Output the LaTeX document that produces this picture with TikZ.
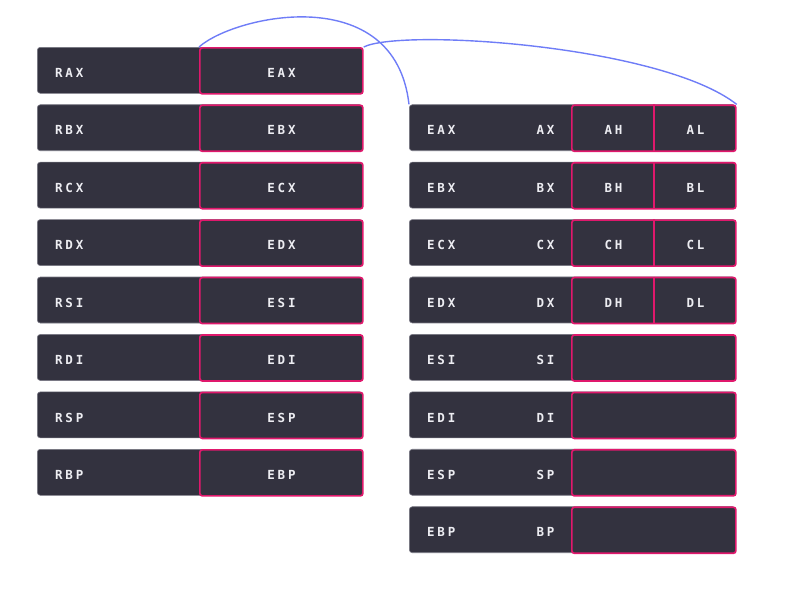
\documentclass[tikz,border=0pt]{standalone}
\usepackage{fontspec}
\newfontfamily\regfont{DejaVu Sans Mono}[LetterSpace=22]
\definecolor{boxfill}{HTML}{33323F}
\definecolor{boxedge}{HTML}{7A7985}
\definecolor{pinkc}{HTML}{E0186C}
\definecolor{linkc}{HTML}{6F7DF7}
\definecolor{labeltext}{HTML}{EDEDF2}
\tikzset{
  regbox/.style={draw=boxedge, fill=boxfill, rounded corners=3pt, line width=0.6pt,
    minimum height=46pt, inner sep=0pt, anchor=north west},
  pinkbox/.style={draw=pinkc, fill=boxfill, rounded corners=2.5pt, line width=1.7pt,
    minimum height=46pt, inner sep=0pt, anchor=north west},
  cellbox/.style={minimum height=46pt, inner sep=0pt, anchor=north west},
  lbl/.style={font=\regfont\bfseries\fontsize{12.5}{14}\selectfont, text=labeltext, inner sep=0pt},
  divider/.style={draw=pinkc, line width=1.7pt},
  link/.style={draw=linkc, line width=1.4pt}
}
\begin{document}
\begin{tikzpicture}[x=1pt,y=-1pt]
\useasboundingbox (0,0) rectangle (791,605);
% left column: 64-bit registers
\foreach \a/\b [count=\i from 0] in {RAX/EAX,RBX/EBX,RCX/ECX,RDX/EDX,RSI/ESI,RDI/EDI,RSP/ESP,RBP/EBP} {
  \pgfmathsetmacro\t{47+57.43*\i}
  \node[regbox, minimum width=325pt] (L\i) at (37,\t) {};
  \node[pinkbox, minimum width=163pt] (LE\i) at (199,\t) {};
  \node[lbl, anchor=base west] (Ln\i) at (55,\t+30.5) {\a};
  \node[lbl, anchor=base] (LEn\i) at (281.5,\t+30.5) {\b};
}
% right column: 32-bit registers
\foreach \a/\b [count=\i from 0] in {EAX/AX,EBX/BX,ECX/CX,EDX/DX,ESI/SI,EDI/DI,ESP/SP,EBP/BP} {
  \pgfmathsetmacro\t{104.4+57.43*\i}
  \node[regbox, minimum width=326pt] (R\i) at (409,\t) {};
  \node[pinkbox, minimum width=164pt] (RP\i) at (571,\t) {};
  \node[lbl, anchor=base west] (Rn\i) at (427,\t+30.5) {\a};
  \node[lbl, anchor=base east] (Rx\i) at (554.5,\t+30.5) {\b};
}
% 8-bit halves
\foreach \h/\l [count=\i from 0] in {AH/AL,BH/BL,CH/CL,DH/DL} {
  \pgfmathsetmacro\t{104.4+57.43*\i}
  \node[cellbox, minimum width=82.5pt] (H\i) at (571,\t) {};
  \node[cellbox, minimum width=81.5pt] (Lo\i) at (653.5,\t) {};
  \draw[divider] (H\i.north east) -- (H\i.south east);
  \node[lbl, anchor=base] (Hn\i) at (613.4,\t+30.5) {\h};
  \node[lbl, anchor=base] (Lon\i) at (695.4,\t+30.5) {\l};
}
% connectors
\draw[link] (LE0.north west) .. controls +(36,-32) and +(-14,-124) .. (R0.north west);
\draw[link] (LE0.north east) .. controls +(38,-19) and +(-75,-59) .. (RP0.north east);
\end{tikzpicture}
\end{document}
